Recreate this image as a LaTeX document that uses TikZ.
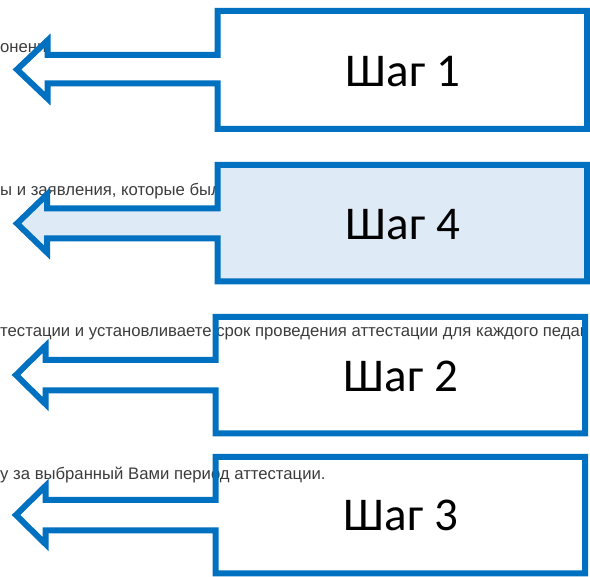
\documentclass[tikz,border=0pt]{standalone}
\usepackage{fontspec}
\setmainfont{Carlito}
\newfontfamily\bgfont{Liberation Sans}
\definecolor{calloutblue}{HTML}{0070C0}
\definecolor{calloutfill}{HTML}{DEEAF6}
\definecolor{bgtext}{HTML}{3C3C3C}
\tikzset{
  callout/.style={draw=calloutblue, line width=6pt, line join=miter, miter limit=10},
  steplabel/.style={font=\fontsize{47}{50}\selectfont, text=black, anchor=base, inner sep=0pt},
  bgline/.style={font=\bgfont\fontsize{16.7}{18}\selectfont, text=bgtext, anchor=base west, inner sep=0pt}
}
% #1 L, #2 R, #3 T, #4 B, #5 s1, #6 s2, #7 hb, #8 tx, #9 ty
\newcommand{\calloutpath}[9]{%
  (#1,#3) -- (#2,#3) -- (#2,#4) -- (#1,#4) -- (#1,#6) -- (#7,#6) -- (#7,#9+29) --
  (#8,#9) -- (#7,#9-29) -- (#7,#5) -- (#1,#5) -- cycle}
\begin{document}
\begin{tikzpicture}[x=1pt,y=-1pt]
\useasboundingbox (0,0) rectangle (590,577);
% background screenshot text
\node[bgline] (t1) at (0,53) {онени.};
\node[bgline] (t2) at (0,196) {ы и заявления, которые был};
\node[bgline] (t3) at (0,336.5) {тестации и установливаете срок проведения аттестации для каждого педаг};
\node[bgline] (t4) at (0,480) {у за выбранный Вами период аттестации.};
% callouts
\draw[callout] \calloutpath{217.5}{587}{11}{129}{55}{83.5}{47.5}{17}{69.5};
\draw[callout, fill=calloutfill] \calloutpath{217.5}{587}{165}{281.5}{208.5}{238.5}{47}{17}{223.5};
\draw[callout] \calloutpath{215.5}{585}{317}{433.5}{360}{390.5}{45.5}{16}{375};
\draw[callout] \calloutpath{215.5}{585}{457}{573.5}{500}{530.5}{45.5}{16}{515};
% labels
\node[steplabel] (s1) at (403,87) {Шаг 1};
\node[steplabel] (s4) at (403,240) {Шаг 4};
\node[steplabel] (s2) at (401,391.5) {Шаг 2};
\node[steplabel] (s3) at (401,530.5) {Шаг 3};
\end{tikzpicture}
\end{document}
